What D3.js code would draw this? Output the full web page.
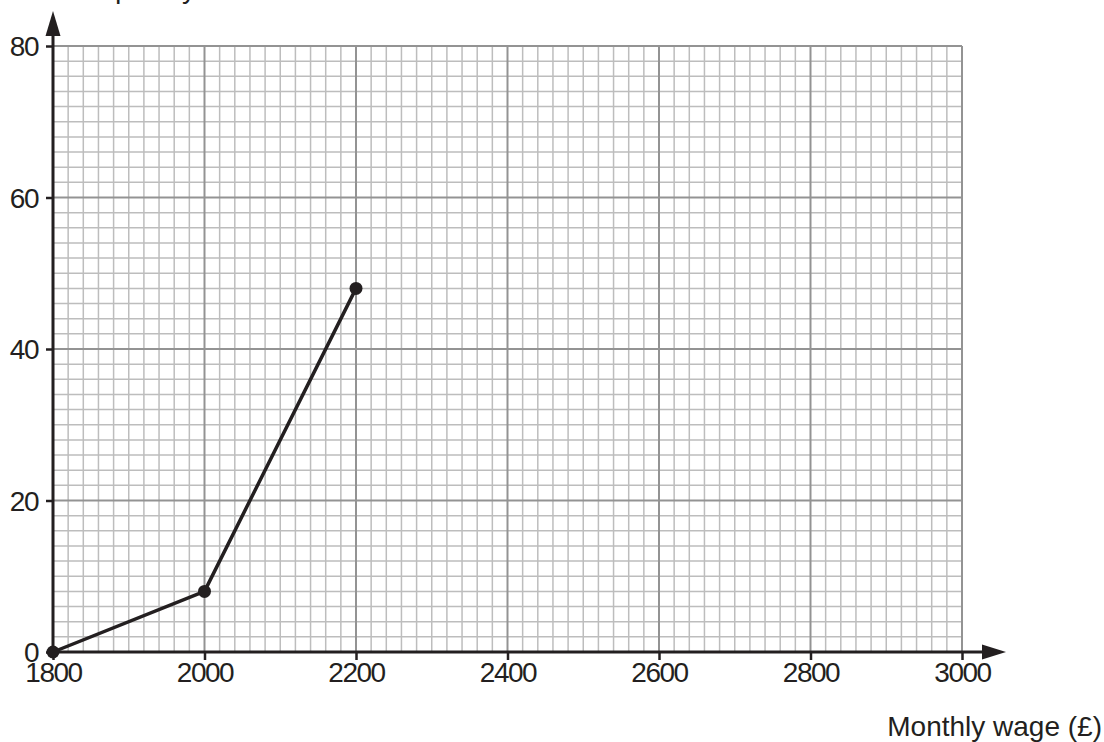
<!DOCTYPE html>
<meta charset="utf-8">
<script src="https://d3js.org/d3.v7.min.js"></script>
<style>
body { margin: 0; background: #fff; }
text { font-family: "Liberation Sans", Arial, sans-serif; fill: #231f20; }
</style>
<div id="chart"></div>
<script>
// data
const wages = [1800, 2000, 2200];
const cumFreq = [0, 8, 48];
const xTicks = [1800, 2000, 2200, 2400, 2600, 2800, 3000];
const yTicks = [0, 20, 40, 60, 80];

const width = 1104, height = 742;
const ink = '#231f20';

const svg = d3.select('#chart').append('svg')
	.attr('width', width)
	.attr('height', height);

const x = d3.scaleLinear().domain([1800, 3000]).range([53, 962]);
const y = d3.scaleLinear().domain([0, 80]).range([652, 46]);

// graph paper: 10 small squares per big square
const xMinor = d3.range(1800, 3000.1, 20);
const yMinor = d3.range(0, 80.1, 2);

const grid = svg.append('g');
grid.selectAll('line.vx')
	.data(xMinor.filter(v => v % 200 != 0))
	.join('line')
	.attr('x1', d => x(d)).attr('x2', d => x(d))
	.attr('y1', y(0)).attr('y2', y(80))
	.attr('stroke', '#bdbdbd').attr('stroke-width', 1.5);
grid.selectAll('line.hy')
	.data(yMinor.filter(v => v % 20 != 0))
	.join('line')
	.attr('x1', x(1800)).attr('x2', x(3000))
	.attr('y1', d => y(d)).attr('y2', d => y(d))
	.attr('stroke', '#bdbdbd').attr('stroke-width', 1.5);
// major lines
grid.append('g').selectAll('line')
	.data(xTicks.slice(1))
	.join('line')
	.attr('x1', d => x(d)).attr('x2', d => x(d))
	.attr('y1', y(0)).attr('y2', y(80))
	.attr('stroke', '#939393').attr('stroke-width', 2);
grid.append('g').selectAll('line')
	.data(yTicks.slice(1))
	.join('line')
	.attr('x1', x(1800)).attr('x2', x(3000))
	.attr('y1', d => y(d)).attr('y2', d => y(d))
	.attr('stroke', '#939393').attr('stroke-width', 2);

// axes
const xAxis = svg.append('g')
	.attr('transform', `translate(0,${y(0)})`)
	.call(d3.axisBottom(x).tickValues(xTicks).tickFormat(d3.format('d')).tickSize(8).tickPadding(2));
const yAxis = svg.append('g')
	.attr('transform', `translate(${x(1800)},0)`)
	.call(d3.axisLeft(y).tickValues(yTicks).tickSize(7).tickPadding(8));

[xAxis, yAxis].forEach(a => {
	a.select('.domain').remove();
	a.selectAll('.tick line').attr('stroke', ink).attr('stroke-width', 2.5);
	a.selectAll('.tick text')
		.attr('fill', ink)
		.style('font-size', '28px')
		.style('letter-spacing', '-1.5px')
		.style('font-family', '"Liberation Sans", Arial, sans-serif');
});
yAxis.selectAll('.tick text').attr('dy', '0.34em');
xAxis.selectAll('.tick line').attr('y1', -1);

// axis lines with arrows
svg.append('line')
	.attr('x1', x(1800)).attr('x2', 985)
	.attr('y1', y(0)).attr('y2', y(0))
	.attr('stroke', ink).attr('stroke-width', 3);
svg.append('path')
	.attr('d', `M1006,${y(0)} L982,${y(0) - 7.5} L982,${y(0) + 7.5} Z`)
	.attr('fill', ink);
svg.append('line')
	.attr('x1', x(1800)).attr('x2', x(1800))
	.attr('y1', y(0)).attr('y2', 32)
	.attr('stroke', ink).attr('stroke-width', 3);
svg.append('path')
	.attr('d', `M${x(1800)},11 L${x(1800) - 7.5},36 L${x(1800) + 7.5},36 Z`)
	.attr('fill', ink);

// axis titles
svg.append('text')
	.attr('x', 196).attr('y', -2)
	.attr('text-anchor', 'end')
	.style('font-size', '28px')
	.text('Cumulative frequency');
svg.append('text')
	.attr('x', 1102).attr('y', 736)
	.attr('text-anchor', 'end')
	.style('font-size', '28px')
	.text('Monthly wage (£)');

// cumulative frequency polygon
const pts = wages.map((w, i) => [w, cumFreq[i]]);
svg.append('path')
	.datum(pts)
	.attr('d', d3.line().x(d => x(d[0])).y(d => y(d[1])))
	.attr('fill', 'none')
	.attr('stroke', ink)
	.attr('stroke-width', 3.5)
	.attr('stroke-linejoin', 'round');
svg.append('g').selectAll('circle')
	.data(pts)
	.join('circle')
	.attr('cx', d => x(d[0]))
	.attr('cy', d => y(d[1]))
	.attr('r', 6.5)
	.attr('fill', ink);
</script>
